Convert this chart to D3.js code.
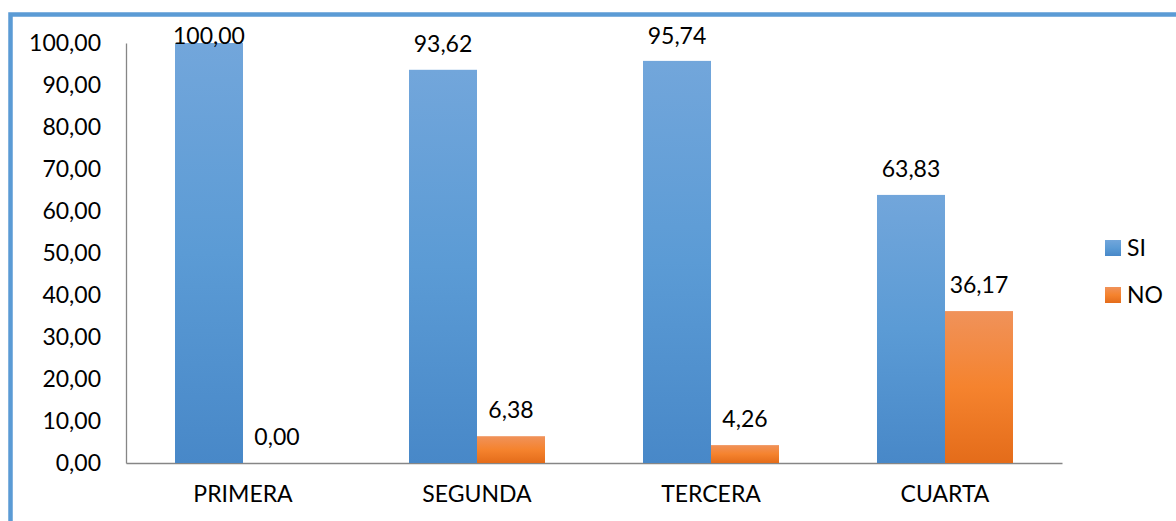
<!DOCTYPE html>
<html><head><meta charset="utf-8">
<script src="https://cdn.jsdelivr.net/npm/d3@7"></script>
<style>body{margin:0;background:#fff}svg{display:block}text{font-family:Lato,"Open Sans",sans-serif;fill:#000}</style>
</head><body>
<script>
const categories = ["PRIMERA","SEGUNDA","TERCERA","CUARTA"];
const seriesNames = ["SI","NO"];
const siValues = [100.00, 93.62, 95.74, 63.83];
const noValues = [0.00, 6.38, 4.26, 36.17];
const yTicks = [0,10,20,30,40,50,60,70,80,90,100];

const W=1176,H=521;
const svg=d3.select("body").append("svg").attr("width",W).attr("height",H);
const defs=svg.append("defs");
const g1=defs.append("linearGradient").attr("id","gSI").attr("x1",0).attr("y1",0).attr("x2",0).attr("y2",1);
g1.append("stop").attr("offset","0%").attr("stop-color","#72a6db");
g1.append("stop").attr("offset","50%").attr("stop-color","#5b9bd5");
g1.append("stop").attr("offset","100%").attr("stop-color","#4888c8");
const g2=defs.append("linearGradient").attr("id","gNO").attr("x1",0).attr("y1",0).attr("x2",0).attr("y2",1);
g2.append("stop").attr("offset","0%").attr("stop-color","#f0925a");
g2.append("stop").attr("offset","50%").attr("stop-color","#f5832e");
g2.append("stop").attr("offset","100%").attr("stop-color","#e46c1a");

// frame
svg.append("rect").attr("x",10.5).attr("y",14.5).attr("width",1300).attr("height",700)
  .attr("fill","none").attr("stroke","#5b9bd5").attr("stroke-width",4.5);

const pL=126,pR=1062,pT=43,pB=463;
const FS="23px";
const x=d3.scaleBand().domain(categories).range([pL,pR]).paddingInner(0).paddingOuter(0);
const x1=d3.scaleBand().domain(seriesNames).range([0,x.bandwidth()]).paddingInner(0).paddingOuter(0.7206);
const y=d3.scaleLinear().domain([0,100]).range([pB,pT]);

// axes
const ya=svg.append("g").attr("transform",`translate(${pL},0)`)
  .call(d3.axisLeft(y).tickValues(yTicks).tickSize(0).tickPadding(25).tickFormat(d=>d3.format(".2f")(d).replace(".",",")));
ya.select(".domain").attr("stroke","#868686").attr("stroke-width",1.3);
ya.selectAll("text").style("font-size",FS).attr("fill","#000");

const xa=svg.append("g").attr("transform",`translate(0,${pB})`)
  .call(d3.axisBottom(x).tickSize(0).tickPadding(23));
xa.select(".domain").attr("stroke","#868686").attr("stroke-width",1.3);
xa.selectAll("text").style("font-size",FS).attr("fill","#000");

const data=categories.map((c,i)=>({c,vals:[{s:"SI",v:siValues[i]},{s:"NO",v:noValues[i]}]}));
const grp=svg.append("g").selectAll("g").data(data).join("g").attr("transform",d=>`translate(${x(d.c)},0)`);
grp.selectAll("rect").data(d=>d.vals).join("rect")
  .attr("x",d=>x1(d.s)).attr("width",x1.bandwidth())
  .attr("y",d=>y(d.v)).attr("height",d=>pB-y(d.v))
  .attr("fill",d=>d.s==="SI"?"url(#gSI)":"url(#gNO)");
grp.selectAll("text.lbl").data(d=>d.vals).join("text").attr("class","lbl")
  .attr("x",d=>x1(d.s)+x1.bandwidth()/2)
  .attr("y",d=>Math.max(y(d.v)-26,36)).attr("dy","0.35em")
  .attr("text-anchor","middle").style("font-size",FS)
  .text(d=>d3.format(".2f")(d.v).replace(".",","));

// legend
const leg=svg.append("g");
seriesNames.forEach((s,i)=>{
  const yy=240+i*47;
  leg.append("rect").attr("x",1105).attr("y",yy).attr("width",16).attr("height",16).attr("fill",i===0?"url(#gSI)":"url(#gNO)");
  leg.append("text").attr("x",1127).attr("y",yy+8).attr("dy","0.35em").style("font-size",FS).text(s);
});
</script>
</body></html>
